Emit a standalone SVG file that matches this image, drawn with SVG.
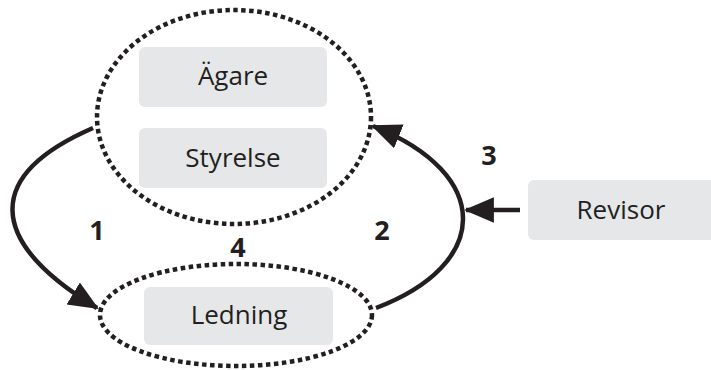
<svg xmlns="http://www.w3.org/2000/svg" width="711" height="370" viewBox="0 0 711 370">
<style>
.dot{fill:none;stroke:#231f20;stroke-width:4.5;stroke-dasharray:4.5 3.5}
.box{fill:#e6e7e8}
.lbl{font-family:"Open Sans","Liberation Sans",sans-serif;font-size:26px;fill:#231f20;text-anchor:middle}
.num{font-family:"Open Sans","Liberation Sans",sans-serif;font-size:27px;font-weight:bold;fill:#231f20;text-anchor:middle}
.arr{fill:none;stroke:#231f20;stroke-width:4.5;marker-end:url(#ah)}
</style>
<defs>
<marker id="ah" markerUnits="userSpaceOnUse" markerWidth="30" markerHeight="30" viewBox="0 0 28 24" refX="26" refY="12" orient="auto">
<path d="M0,0 L28,12 L0,24 Z" fill="#231f20"/>
</marker>
</defs>
<g id="top-group"><ellipse class="dot" cx="234" cy="117" rx="137" ry="107"/></g>
<g id="bottom-group"><ellipse class="dot" cx="236" cy="315" rx="136" ry="51"/></g>
<g id="agare"><rect class="box" x="139" y="47" width="188" height="60" rx="6"/><text class="lbl" x="233" y="85">Ägare</text></g>
<g id="styrelse"><rect class="box" x="139" y="128" width="188" height="60" rx="6"/><text class="lbl" x="233" y="167">Styrelse</text></g>
<g id="ledning"><rect class="box" x="144" y="287" width="189" height="58" rx="6"/><text class="lbl" x="239" y="324">Ledning</text></g>
<g id="revisor"><rect class="box" x="528" y="180" width="190" height="60" rx="6"/><text class="lbl" x="621" y="219">Revisor</text></g>
<g id="connectors">
<path class="arr" d="M93,128 C-15,175 -15,240 97,308"/>
<path class="arr" d="M376,308 C490,265 495,175 373,126"/>
<path class="arr" d="M520,210 L466,210"/>
</g>
<g id="labels">
<text class="num" x="97" y="240">1</text>
<text class="num" x="382" y="240">2</text>
<text class="num" x="489" y="165">3</text>
<text class="num" x="238" y="257">4</text>
</g>
</svg>
